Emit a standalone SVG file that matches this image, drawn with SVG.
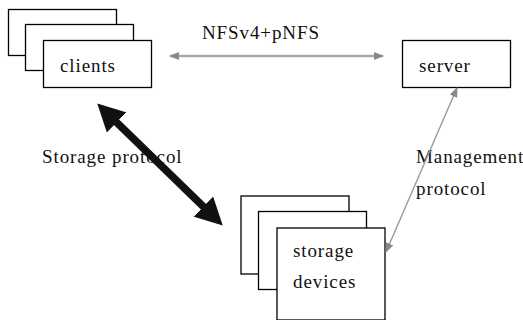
<svg xmlns="http://www.w3.org/2000/svg" width="523" height="320" viewBox="0 0 523 320">
  <style>
    .box { fill: #fff; stroke: #000; stroke-width: 1.3; }
    .lbl { font-family: "Liberation Serif", "Times New Roman", serif; font-size: 19px; letter-spacing: 0.9px; fill: #111; }
    .gray { stroke: #aaa; stroke-width: 2.4; fill: none; }
    .mgmt { stroke: #999; stroke-width: 1.4; fill: none; }
    .bold { stroke: #111; stroke-width: 7.5; fill: none; }
  </style>
  <defs>
    <marker id="headGray" viewBox="0 0 10 8" markerWidth="10" markerHeight="8" refX="9" refY="4" orient="auto-start-reverse" markerUnits="userSpaceOnUse">
      <path d="M0,0 L10,4 L0,8 z" fill="#888"/>
    </marker>
    <marker id="headBlack" viewBox="0 0 27 28" markerWidth="27" markerHeight="28" refX="12" refY="14" orient="auto-start-reverse" markerUnits="userSpaceOnUse">
      <path d="M0,0 L27,14 L0,28 z" fill="#111"/>
    </marker>
  </defs>
  <rect width="523" height="320" fill="#fff"/>

  <g id="clients">
    <rect class="box" x="8.5" y="9.5" width="108" height="46"/>
    <rect class="box" x="25.5" y="24.5" width="108" height="46"/>
    <rect class="box" x="43.5" y="40.5" width="108" height="47"/>
    <text class="lbl" x="60" y="72">clients</text>
  </g>

  <g id="server">
    <rect class="box" x="402.5" y="40.5" width="108" height="47"/>
    <text class="lbl" x="419" y="72">server</text>
  </g>

  <g id="storage-devices">
    <rect class="box" x="241" y="196" width="108" height="78"/>
    <rect class="box" x="258.5" y="211.5" width="108" height="78"/>
    <rect class="box" x="277" y="228" width="108" height="92"/>
    <text class="lbl" x="293" y="257">storage</text>
    <text class="lbl" x="293" y="288">devices</text>
  </g>

  <g id="labels">
    <text class="lbl" x="202" y="39">NFSv4+pNFS</text>
    <text class="lbl" x="42" y="163">Storage protocol</text>
    <text class="lbl" x="416" y="163">Management</text>
    <text class="lbl" x="416" y="195">protocol</text>
  </g>

  <g id="connectors">
    <line class="gray" x1="170" y1="56" x2="383" y2="56" marker-start="url(#headGray)" marker-end="url(#headGray)"/>
    <line class="mgmt" x1="457" y1="88" x2="386" y2="252" marker-start="url(#headGray)" marker-end="url(#headGray)"/>
    <line class="bold" x1="108" y1="114" x2="212" y2="215" marker-start="url(#headBlack)" marker-end="url(#headBlack)"/>
  </g>
</svg>
